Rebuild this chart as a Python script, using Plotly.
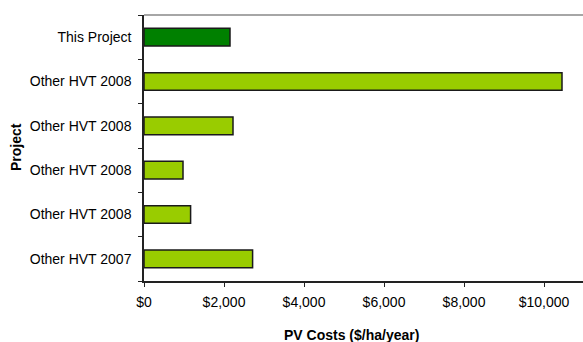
import plotly.graph_objects as go

categories = ["Other HVT 2007", "Other HVT 2008", "Other HVT 2008", "Other HVT 2008", "Other HVT 2008", "This Project"]
values = [2715, 1165, 975, 2225, 10450, 2150]
colors = ["#99CC00", "#99CC00", "#99CC00", "#99CC00", "#99CC00", "#008000"]
x_ticks = [0, 2000, 4000, 6000, 8000, 10000]
x_tick_labels = ["$0", "$2,000", "$4,000", "$6,000", "$8,000", "$10,000"]

pos = list(range(len(categories)))
font = "Liberation Sans, Arial, sans-serif"

fig = go.Figure(go.Bar(
    x=values, y=pos, orientation="h", width=0.4,
    marker=dict(color=colors, line=dict(color="#1a1a1a", width=1.5)),
))

fig.update_layout(
    width=583, height=342,
    margin=dict(l=144, r=0, t=15, b=61),
    paper_bgcolor="white", plot_bgcolor="white",
    showlegend=False,
    font=dict(family=font, size=14, color="black"),
    xaxis=dict(
        range=[0, 10975], tickvals=x_ticks, ticktext=x_tick_labels,
        showgrid=False, zeroline=False, showline=True, linecolor="#222222", linewidth=1.5,
        ticks="outside", ticklen=4, tickcolor="#222222", tickwidth=1, ticklabelstandoff=3,
        tickfont=dict(size=14, family=font),
    ),
    yaxis=dict(
        range=[-0.5, 5.5], tickvals=pos, ticktext=categories,
        showgrid=False, zeroline=False, showline=True, linecolor="#222222", linewidth=1.5,
        ticks="", ticklabelstandoff=8,
        tickfont=dict(size=14, family=font),
        minor=dict(tickvals=[i - 0.5 for i in range(len(categories) + 1)], ticks="outside",
                   ticklen=4, tickcolor="#222222", tickwidth=1, showgrid=False),
    ),
    shapes=[dict(type="line", xref="paper", yref="paper", x0=0, x1=1, y0=1, y1=1,
                 line=dict(color="#888888", width=1.5))],
    annotations=[
        dict(text="<b>PV Costs ($/ha/year)</b>", xref="paper", yref="paper",
             x=(351.5 - 144) / 439, y=(281 - 335) / 266, showarrow=False,
             xanchor="center", yanchor="middle", font=dict(size=14, family=font)),
        dict(text="<b>Project</b>", xref="paper", yref="paper", textangle=-90,
             x=(16 - 144) / 439, y=(281 - 147) / 266, showarrow=False,
             xanchor="center", yanchor="middle", font=dict(size=14, family=font)),
    ],
)

fig.write_html("out.html")
